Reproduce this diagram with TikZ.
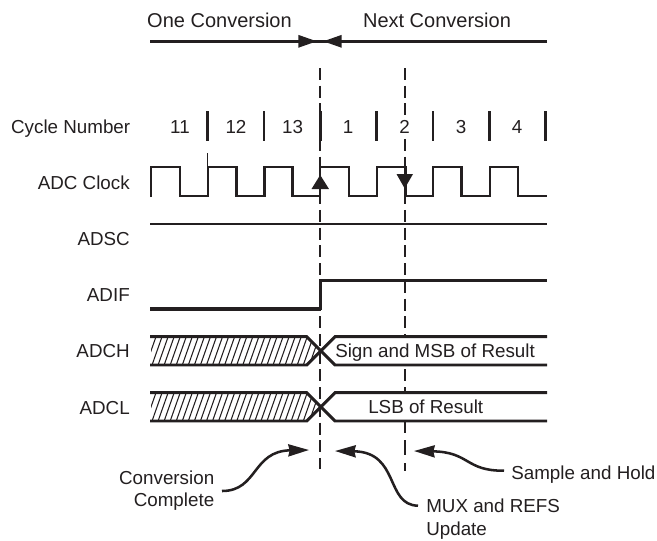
\documentclass[tikz,border=0pt]{standalone}
\usepackage{fontspec}
\setmainfont{Liberation Sans}
\usetikzlibrary{arrows.meta}
\definecolor{ink}{HTML}{231F20}
\tikzset{
  lbl/.style={inner sep=0pt,anchor=base,text=ink,font=\fontsize{14.1pt}{17pt}\selectfont},
  hdr/.style={inner sep=0pt,anchor=base,text=ink,font=\fontsize{15pt}{18pt}\selectfont},
  sig/.style={draw=ink,line width=2.2pt,line join=miter},
  thin sig/.style={draw=ink,line width=2.1pt},
  guide/.style={draw=ink,line width=1.5pt,dash pattern=on 9pt off 4.3pt},
  guide low/.style={draw=ink,line width=1.5pt,dash pattern=on 9pt off 5.25pt on 11.25pt off 6pt on 6pt off 20pt},
  tick/.style={draw=ink,line width=2.1pt},
  hatch/.style={draw=ink,line width=0.8pt},
  bigtip/.style={-{Triangle[length=14pt,width=9pt]}},
  callout/.style={draw=ink,line width=1.9pt,-{Stealth[length=15.5pt,width=9pt,inset=1pt]}},
}
\begin{document}
\begin{tikzpicture}[x=0.75pt,y=-0.75pt]
\useasboundingbox (0,0) rectangle (657,540);
% headers
\node[hdr] (one) at (219.5,27.7) {One Conversion};
\node[hdr] (next) at (437,27.7) {Next Conversion};
\coordinate (oneL) at (150,41.3);
\coordinate (oneT) at (317,41.3);
\coordinate (nextR) at (547,41.3);
\coordinate (nextT) at (323,41.3);
\draw[sig] (oneL) -- (nextR);
\draw[sig,bigtip] (oneL) -- (oneT);
\draw[sig,bigtip] (nextR) -- (nextT);
% guides
\coordinate (g1a) at (320.2,68);
\coordinate (g1b) at (320.2,469);
\coordinate (g2a) at (404.7,68);
\coordinate (g2m) at (404.7,421);
\coordinate (g2b) at (404.7,471.5);
\draw[guide] (g1a) -- (g1b);
\draw[guide] (g2a) -- (g2m);
\draw[guide low] (g2m) -- (g2b);
% row labels
\node[lbl,anchor=base east] (cyc) at (130.5,133.2) {Cycle Number};
\node[lbl,anchor=base east] (clk) at (130,189.3) {ADC Clock};
\node[lbl,anchor=base east] (adsc) at (130,245) {ADSC};
\node[lbl,anchor=base east] (adif) at (130,301) {ADIF};
\node[lbl,anchor=base east] (adch) at (130,357.7) {ADCH};
\node[lbl,anchor=base east] (adcl) at (130,414.3) {ADCL};
% cycle numbers
\foreach \n/\t/\x in {c11/11/180,c12/12/236,c13/13/292.5,c1/1/348,c2/2/404.5,c3/3/461,c4/4/517}
  \node[lbl,fill=white,inner xsep=1.5pt] (\n) at (\x,133.2) {\t};
\foreach \x in {207.7,264,320.2,376.7,433,489.3,545.5}
  \draw[tick] (\x,111) -- (\x,141);
\draw[draw=ink,line width=1pt] (207.7,153) -- (207.7,167);
% clock
\draw[sig] (151,197) |- (180,167) |- (208,196) |- (236.7,167) |- (264.5,196) |- (292.7,167)
  |- (320,196) |- (349,167) |- (377,196) |- (405.5,167) |- (433,196) |- (461.7,167) |- (490,196) |- (518,167)
  |- (547,196);
\fill[ink] (320.2,175) -- (329,189) -- (311.5,189) -- cycle;
\fill[ink] (404.7,188.5) -- (413,174) -- (396.5,174) -- cycle;
% ADSC
\draw[thin sig] (150,224) -- (547,224);
% ADIF
\draw[draw=ink,line width=3pt] (150,309) -- (321,309);
\draw[sig] (320.2,310) -- (320.2,280.7) -- (547,280.7);
% buses
\foreach \t/\b in {336.7/365,392.7/421}{
  \fill[white] (320.8,{(\t+\b)/2}) -- (335,\t) -- (547,\t) -- (547,\b) -- (335,\b) -- cycle;
  \begin{scope}
    \clip (151,\t) -- (306.7,\t) -- (320.7,{(\t+\b)/2}) -- (306.7,\b) -- (151,\b) -- cycle;
    \foreach \k in {0,...,27}
      \draw[hatch] ({146+\k*6.05},\b) -- ({156+\k*6.05},\t);
  \end{scope}
  \draw[sig] (150,\t) -- (306.7,\t) -- (335,\b) -- (547,\b);
  \draw[sig] (150,\b) -- (306.7,\b) -- (335,\t) -- (547,\t);
}
\node[lbl,anchor=base west] (msb) at (335,357) {Sign and MSB of Result};
\node[lbl,anchor=base west] (lsb) at (368,413.5) {LSB of Result};
% callouts
\node[lbl,anchor=base east] (cc1) at (214.5,484.3) {Conversion};
\node[lbl,anchor=base east] (cc2) at (214.5,506.7) {Complete};
\node[lbl,anchor=base west] (mux1) at (426,512) {MUX and REFS};
\node[lbl,anchor=base west] (mux2) at (426,535) {Update};
\node[lbl,anchor=base west] (sh) at (511,479.3) {Sample and Hold};
\coordinate (ccT) at (309,450);
\coordinate (muxT) at (335,451);
\coordinate (shT) at (414,451);
\coordinate (ccS) at (222,491);
\coordinate (muxS) at (418,505.7);
\coordinate (shS) at (504,470.7);
\draw[callout] (ccS) .. controls (258,491) and (252,451) .. (ccT);
\draw[callout] (muxS) .. controls (385,505) and (400,452) .. (muxT);
\draw[callout] (shS) .. controls (465,471) and (470,452) .. (shT);
\end{tikzpicture}
\end{document}
